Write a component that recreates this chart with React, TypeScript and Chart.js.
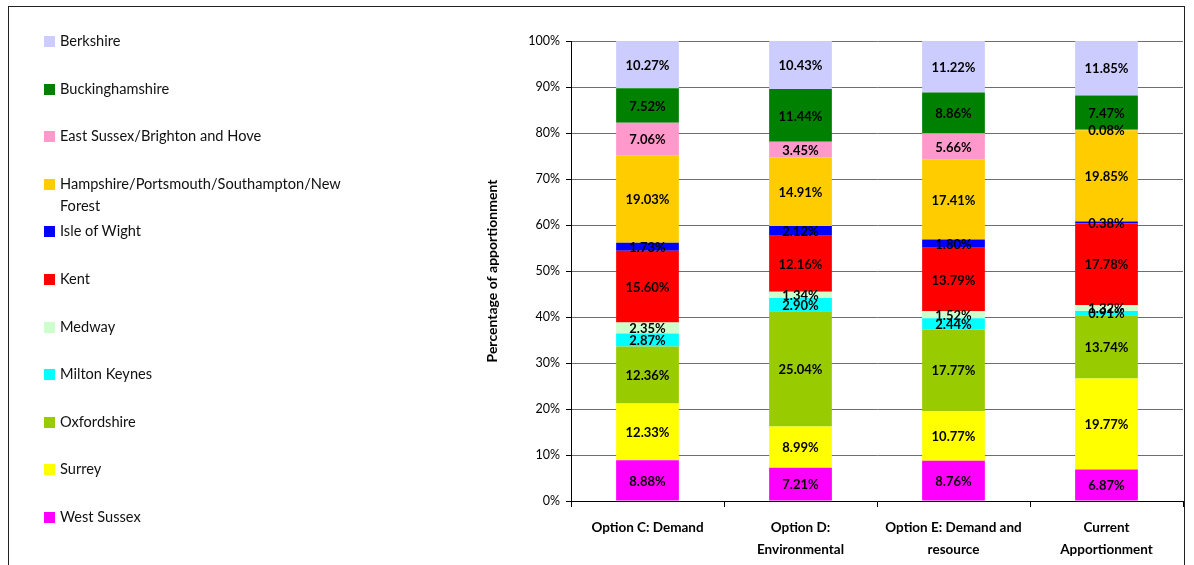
import React, { useEffect, useRef } from "react";
import { Chart, registerables } from "chart.js";

Chart.register(...registerables);

const categories: string[][] = [
  ["Option C: Demand"],
  ["Option D:", "Environmental"],
  ["Option E: Demand and", "resource"],
  ["Current", "Apportionment"],
];

const westSussex = [8.88, 7.21, 8.76, 6.87];
const surrey = [12.33, 8.99, 10.77, 19.77];
const oxfordshire = [12.36, 25.04, 17.77, 13.74];
const miltonKeynes = [2.87, 2.9, 2.44, 0.91];
const medway = [2.35, 1.34, 1.52, 1.32];
const kent = [15.6, 12.16, 13.79, 17.78];
const isleOfWight = [1.73, 2.12, 1.8, 0.38];
const hampshire = [19.03, 14.91, 17.41, 19.85];
const eastSussex = [7.06, 3.45, 5.66, 0.08];
const buckinghamshire = [7.52, 11.44, 8.86, 7.47];
const berkshire = [10.27, 10.43, 11.22, 11.85];

const yTicks = [0, 10, 20, 30, 40, 50, 60, 70, 80, 90, 100];

// bottom-to-top stacking order
const series = [
  { label: "West Sussex", data: westSussex, color: "#FF00FF" },
  { label: "Surrey", data: surrey, color: "#FFFF00" },
  { label: "Oxfordshire", data: oxfordshire, color: "#99CC00" },
  { label: "Milton Keynes", data: miltonKeynes, color: "#00FFFF" },
  { label: "Medway", data: medway, color: "#CCFFCC" },
  { label: "Kent", data: kent, color: "#FF0000" },
  { label: "Isle of Wight", data: isleOfWight, color: "#0000FF" },
  { label: "Hampshire/Portsmouth/Southampton/New Forest", data: hampshire, color: "#FFCC00" },
  { label: "East Sussex/Brighton and Hove", data: eastSussex, color: "#FF99CC" },
  { label: "Buckinghamshire", data: buckinghamshire, color: "#008000" },
  { label: "Berkshire", data: berkshire, color: "#CCCCFF" },
];

const FONT = "Lato, 'DejaVu Sans', sans-serif";

const labelPlugin = {
  id: "segLabels",
  afterDatasetsDraw(chart: any) {
    const ctx = chart.ctx;
    ctx.save();
    ctx.font = `bold 13px ${FONT}`;
    ctx.fillStyle = "#000";
    ctx.textAlign = "center";
    ctx.textBaseline = "middle";
    chart.data.datasets.forEach((ds: any, di: number) => {
      const meta = chart.getDatasetMeta(di);
      meta.data.forEach((el: any, i: number) => {
        const p = el.getProps(["x", "y", "base"], true);
        const v = ds.data[i] as number;
        ctx.fillText(v.toFixed(2) + "%", p.x, (p.y + p.base) / 2 + 1);
      });
    });
    ctx.restore();
  },
};

export default function App() {
  const ref = useRef<HTMLCanvasElement | null>(null);

  useEffect(() => {
    if (!ref.current) return;
    Chart.defaults.font.family = FONT;
    const chart = new Chart(ref.current, {
      type: "bar",
      data: {
        labels: categories as any,
        datasets: series.map((s) => ({
          label: s.label,
          data: s.data,
          backgroundColor: s.color,
          borderWidth: 0,
          barPercentage: 0.41,
          categoryPercentage: 1,
        })),
      },
      options: {
        animation: false,
        responsive: false,
        maintainAspectRatio: false,
        layout: { padding: { left: 481, right: 11, top: 41, bottom: 0 } },
        plugins: {
          legend: { display: false },
          tooltip: { enabled: false },
        },
        scales: {
          x: {
            stacked: true,
            afterFit: (s: any) => {
              s.height = 64;
            },
            grid: {
              display: true,
              drawOnChartArea: false,
              drawTicks: true,
              tickLength: 6,
              color: "#000",
              offset: true,
            },
            border: { display: true, color: "#000", width: 1 },
            ticks: {
              color: "#000",
              font: { size: 13.5, weight: "bold", lineHeight: 1.63 },
              padding: 10,
              maxRotation: 0,
              autoSkip: false,
            },
          },
          y: {
            stacked: true,
            min: 0,
            max: 100,
            afterFit: (s: any) => {
              s.width = 90;
            },
            afterBuildTicks: (s: any) => {
              s.ticks = yTicks.map((v) => ({ value: v }));
            },
            grid: {
              color: "#6e6e6e",
              lineWidth: 1,
              drawTicks: true,
              tickLength: 5,
              tickColor: "#000",
            },
            border: { display: true, color: "#000", width: 1 },
            ticks: {
              color: "#000",
              font: { size: 12.5 },
              padding: 6,
              callback: (v: any) => v + "%",
            },
            title: {
              display: true,
              text: "Percentage of apportionment",
              color: "#000",
              font: { size: 14, weight: "bold" },
              padding: { top: 3, bottom: 0 },
            },
          },
        },
      },
      plugins: [labelPlugin],
    });
    return () => chart.destroy();
  }, []);

  const legendItems = [...series].reverse();

  return (
    <div style={{ position: "fixed", inset: 0, overflow: "hidden", background: "#fff" }}>
      <div
        style={{
          position: "absolute",
          left: 8,
          top: 6,
          width: 1177,
          height: 600,
          border: "1px solid #222",
          boxSizing: "border-box",
        }}
      />
      <canvas
        ref={ref}
        width={1194}
        height={565}
        style={{ position: "absolute", left: 0, top: 0, width: 1194, height: 565 }}
      />
      {legendItems.map((s, i) => (
        <div
          key={s.label}
          style={{
            position: "absolute",
            left: 44,
            top: 30 + i * 47.6,
            display: "flex",
            alignItems: "flex-start",
            fontFamily: FONT,
            fontSize: 14.6,
            lineHeight: "22px",
            color: "#111",
          }}
        >
          <span
            style={{
              display: "inline-block",
              width: 11,
              height: 11,
              marginTop: 6,
              marginRight: 5,
              background: s.color,
              flex: "none",
            }}
          />
          <span style={{ width: 300 }}>{s.label}</span>
        </div>
      ))}
    </div>
  );
}
